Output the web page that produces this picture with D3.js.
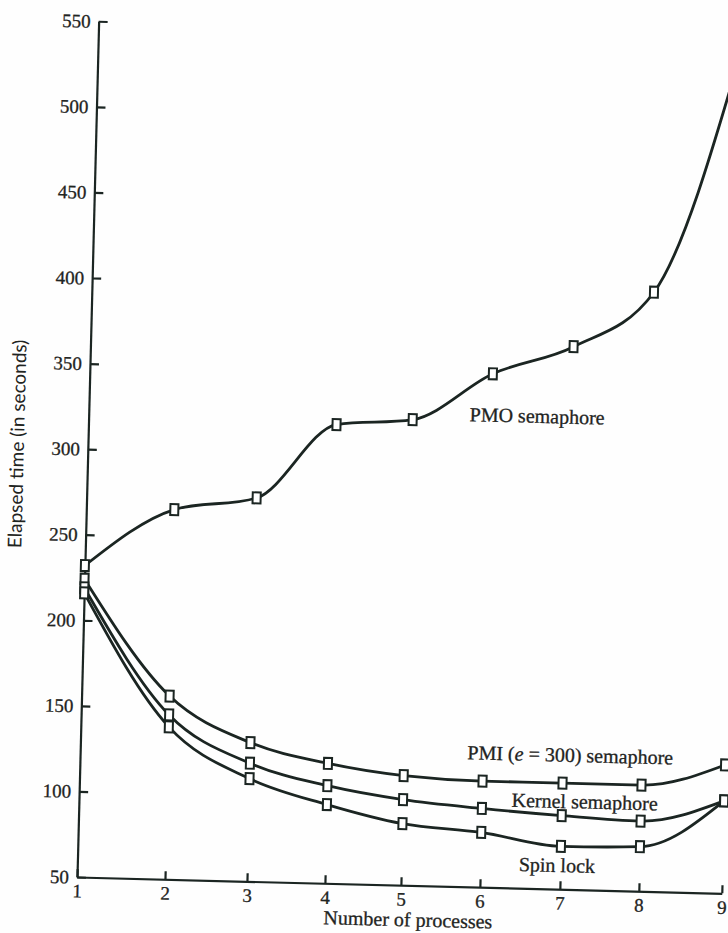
<!DOCTYPE html>
<html>
<head>
<meta charset="utf-8">
<script src="https://cdn.jsdelivr.net/npm/d3@7"></script>
<style>
  html, body { margin: 0; padding: 0; background: #fefefe; }
  svg { display: block; }
</style>
</head>
<body>
<svg id="chart" width="728" height="933"></svg>
<script>
// ---- data ----
const processes = [1, 2, 3, 4, 5, 6, 7, 8, 9];
const pmoSemaphore    = [232, 266, 274, 318, 322, 350, 367, 400, 546];
const pmiSemaphore    = [224, 157, 131, 120, 114, 112, 112, 112, 125];
const kernelSemaphore = [219, 146, 119, 107, 100, 96, 93, 91, 104];
const spinLock        = [216, 139, 110, 96, 86, 82, 75, 76, 104];
const yTicks = [50, 100, 150, 200, 250, 300, 350, 400, 450, 500, 550];
const xTicks = [1, 2, 3, 4, 5, 6, 7, 8, 9];
const seriesNames = ["PMO semaphore", "PMI (e = 300) semaphore", "Kernel semaphore", "Spin lock"];
// label anchors in data units [process, seconds]
const labelAnchors = [[5.72, 322], [5.8, 124.5], [6.37, 97.5], [6.48, 60]];

const series = [pmoSemaphore, pmiSemaphore, kernelSemaphore, spinLock];

// ---- layout ----
const svg = d3.select("#chart");
const ox = 77, oy = 877, tilt = 1.45;
const yLen = 856;
const ink = "#1b2522";
const textInk = "#1f2422";
const serif = "'Liberation Serif', 'Times New Roman', serif";

// the printed axis is not evenly spaced: piecewise-linear scale following the printed ticks
const xStops = [0, 88, 170, 248, 324, 403, 483, 562, 645];
const x = d3.scaleLinear().domain(xTicks).range(xStops);
const y = d3.scaleLinear().domain([50, 550]).range([0, -yLen]);

const g = svg.append("g").attr("transform", `translate(${ox},${oy}) rotate(${tilt})`);

// y axis
const yAxis = g.append("g")
  .call(d3.axisLeft(y).tickValues(yTicks).tickFormat(d3.format("d"))
    .tickSizeInner(-9).tickSizeOuter(0).tickPadding(8));
// x axis
const xAxis = g.append("g")
  .call(d3.axisBottom(x).tickValues(xTicks).tickFormat(d3.format("d"))
    .tickSizeInner(-8).tickSizeOuter(0).tickPadding(7));

[yAxis, xAxis].forEach(a => {
  a.attr("font-family", null).attr("font-size", null);
  a.select(".domain").attr("stroke", ink).attr("stroke-width", 2.2);
  a.selectAll(".tick line").attr("stroke", ink).attr("stroke-width", 2.2);
  a.selectAll(".tick text")
    .style("font-family", serif)
    .style("font-size", "19px")
    .attr("fill", textInk)
    .attr("stroke", textInk).attr("stroke-width", 0.3);
});

// lines
const line = d3.line()
  .x((d, i) => x(processes[i]))
  .y(d => y(d))
  .curve(d3.curveMonotoneX);

g.append("g").selectAll("path")
  .data(series)
  .join("path")
  .attr("d", d => line(d))
  .attr("fill", "none")
  .attr("stroke", ink)
  .attr("stroke-width", 2.8);

// markers
const mw = 8, mh = 11;
series.forEach(s => {
  g.append("g").selectAll("rect")
    .data(s)
    .join("rect")
    .attr("x", (d, i) => x(processes[i]) - mw / 2)
    .attr("y", d => y(d) - mh / 2)
    .attr("width", mw)
    .attr("height", mh)
    .attr("fill", "#ffffff")
    .attr("stroke", ink)
    .attr("stroke-width", 2);
});

// series labels
seriesNames.forEach((name, k) => {
  const t = g.append("text")
    .attr("x", x(labelAnchors[k][0]))
    .attr("y", y(labelAnchors[k][1]))
    .style("font-family", serif)
    .style("font-size", "20px")
    .attr("fill", textInk)
    .attr("stroke", textInk).attr("stroke-width", 0.3);
  if (name.includes("(e")) {
    t.append("tspan").text("PMI (");
    t.append("tspan").style("font-style", "italic").text("e");
    t.append("tspan").text(" = 300) semaphore");
  } else {
    t.text(name);
  }
});

// axis titles
g.append("text")
  .attr("x", x(5.1))
  .attr("y", 41)
  .attr("text-anchor", "middle")
  .style("font-family", serif)
  .style("font-size", "20px")
  .attr("fill", textInk)
  .attr("stroke", textInk).attr("stroke-width", 0.3)
  .text("Number of processes");

g.append("text")
  .attr("transform", `translate(-64,${y(302)}) rotate(-90)`)
  .attr("text-anchor", "middle")
  .style("font-family", "Lato, 'Open Sans', sans-serif")
  .style("font-size", "19px")
  .attr("fill", textInk)
  .text("Elapsed time (in seconds)");
</script>
</body>
</html>
